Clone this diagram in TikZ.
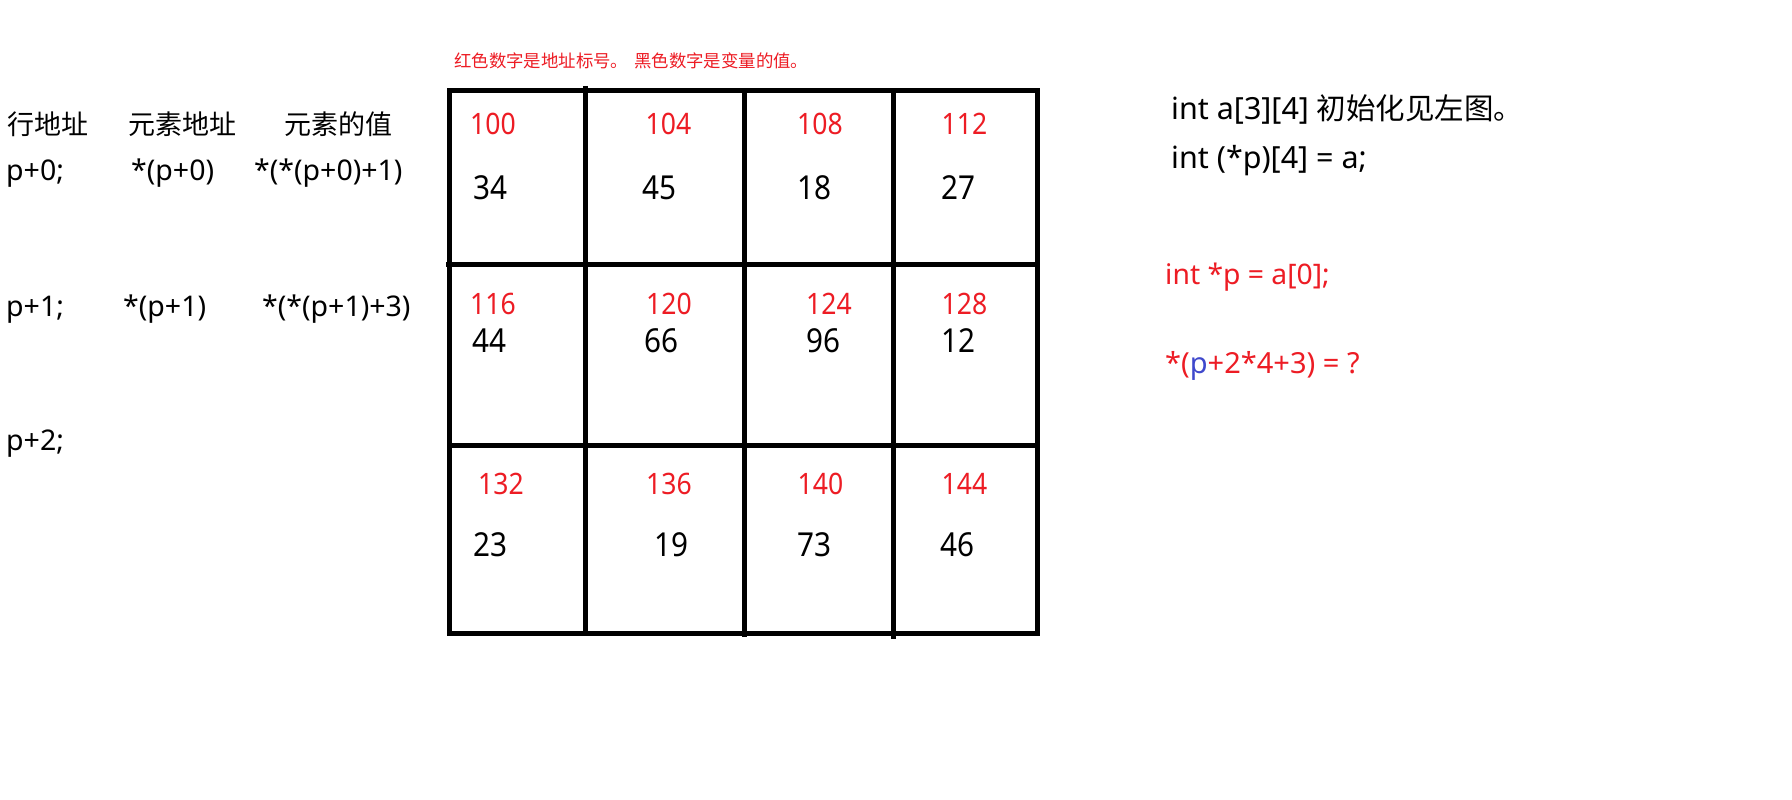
\documentclass[tikz,border=0pt]{standalone}
\usepackage{fontspec}
\setmainfont{Noto Sans}
\newfontfamily\cjk{Noto Sans CJK SC}
\newfontfamily\narrowfont[FakeStretch=0.9]{Noto Sans}
\definecolor{pred}{RGB}{237,28,36}
\definecolor{pblue}{RGB}{63,72,204}
\begin{document}
\begin{tikzpicture}[x=1pt,y=-1pt,
  gridline/.style={line width=5pt,black},
  addr/.style={inner sep=0pt,anchor=west,text=pred,font={\narrowfont\fontsize{29.5}{30}\selectfont}},
  val/.style={inner sep=0pt,anchor=west,font={\narrowfont\fontsize{33}{34}\selectfont}},
  note/.style={inner sep=0pt,anchor=base west,text=pred,font={\cjk\fontsize{17.4}{18}\selectfont}},
  headcn/.style={inner sep=0pt,anchor=base west,font={\cjk\fontsize{27}{28}\selectfont}},
  lefttxt/.style={inner sep=0pt,anchor=base west,font={\fontsize{28.5}{30}\selectfont}},
  righttxt/.style={inner sep=0pt,anchor=base west,font={\fontsize{30.5}{32}\selectfont}},
  redtxt/.style={inner sep=0pt,anchor=base west,text=pred,font={\fontsize{28.3}{30}\selectfont}}
]
\useasboundingbox[fill=white] (0,0) rectangle (1792,800);

% header note
\node[note] (note1) at (454,68) {红色数字是地址标号。};
\node[note] (note2) at (634,68) {黑色数字是变量的值。};

% grid
\draw[gridline,line join=miter] (449.5,91) rectangle (1037,633);
\draw[gridline] (585.5,86) -- (585.5,633);
\draw[gridline] (744.5,91) -- (744.5,637);
\draw[gridline] (893,91) -- (893,639);
\draw[gridline] (446,264) -- (1037,264);
\draw[gridline] (449.5,445.7) -- (1040,445.7);

% row 1
\node[addr] (a100) at (470,124) {100};
\node[addr] (a104) at (645.5,124) {104};
\node[addr] (a108) at (797,124) {108};
\node[addr] (a112) at (941.5,124) {112};
\node[val] (v34) at (473.5,188) {34};
\node[val] (v45) at (642.5,188) {45};
\node[val] (v18) at (797.5,188) {18};
\node[val] (v27) at (941.5,188) {27};
% row 2
\node[addr] (a116) at (470,304) {116};
\node[addr] (a120) at (646,304) {120};
\node[addr] (a124) at (806,304) {124};
\node[addr] (a128) at (941.5,304) {128};
\node[val] (v44) at (472,341) {44};
\node[val] (v66) at (644,341) {66};
\node[val] (v96) at (806,341) {96};
\node[val] (v12) at (941.5,341) {12};
% row 3
\node[addr] (a132) at (478,484) {132};
\node[addr] (a136) at (646,484) {136};
\node[addr] (a140) at (797.5,484) {140};
\node[addr] (a144) at (941.5,484) {144};
\node[val] (v23) at (473,545) {23};
\node[val] (v19) at (654,545) {19};
\node[val] (v73) at (797.5,545) {73};
\node[val] (v46) at (940.5,545) {46};

% left column
\node[headcn] (h1) at (7,134.5) {行地址};
\node[headcn] (h2) at (128,134.5) {元素地址};
\node[headcn] (h3) at (284,134.5) {元素的值};
\node[lefttxt] (r0a) at (6,180) {p+0;};
\node[lefttxt] (r0b) at (131,180) {*(p+0)};
\node[lefttxt] (r0c) at (254,180) {*(*(p+0)+1)};
\node[lefttxt] (r1a) at (6,316) {p+1;};
\node[lefttxt] (r1b) at (123,316) {*(p+1)};
\node[lefttxt] (r1c) at (262,316) {*(*(p+1)+3)};
\node[lefttxt] (r2a) at (6,450.5) {p+2;};

% right column
\node[righttxt] (t1) at (1171,119) {int a[3][4] {\cjk\fontsize{29.5}{30}\selectfont 初始化见左图。}};
\node[righttxt] (t2) at (1171,168) {int (*p)[4] = a;};
\node[redtxt] (t3) at (1165,284) {int *p = a[0];};
\node[redtxt,font={\fontsize{29}{30}\selectfont}] (t4) at (1165,373) {*(\textcolor{pblue}{p}+2*4+3) = ?};
\end{tikzpicture}
\end{document}
